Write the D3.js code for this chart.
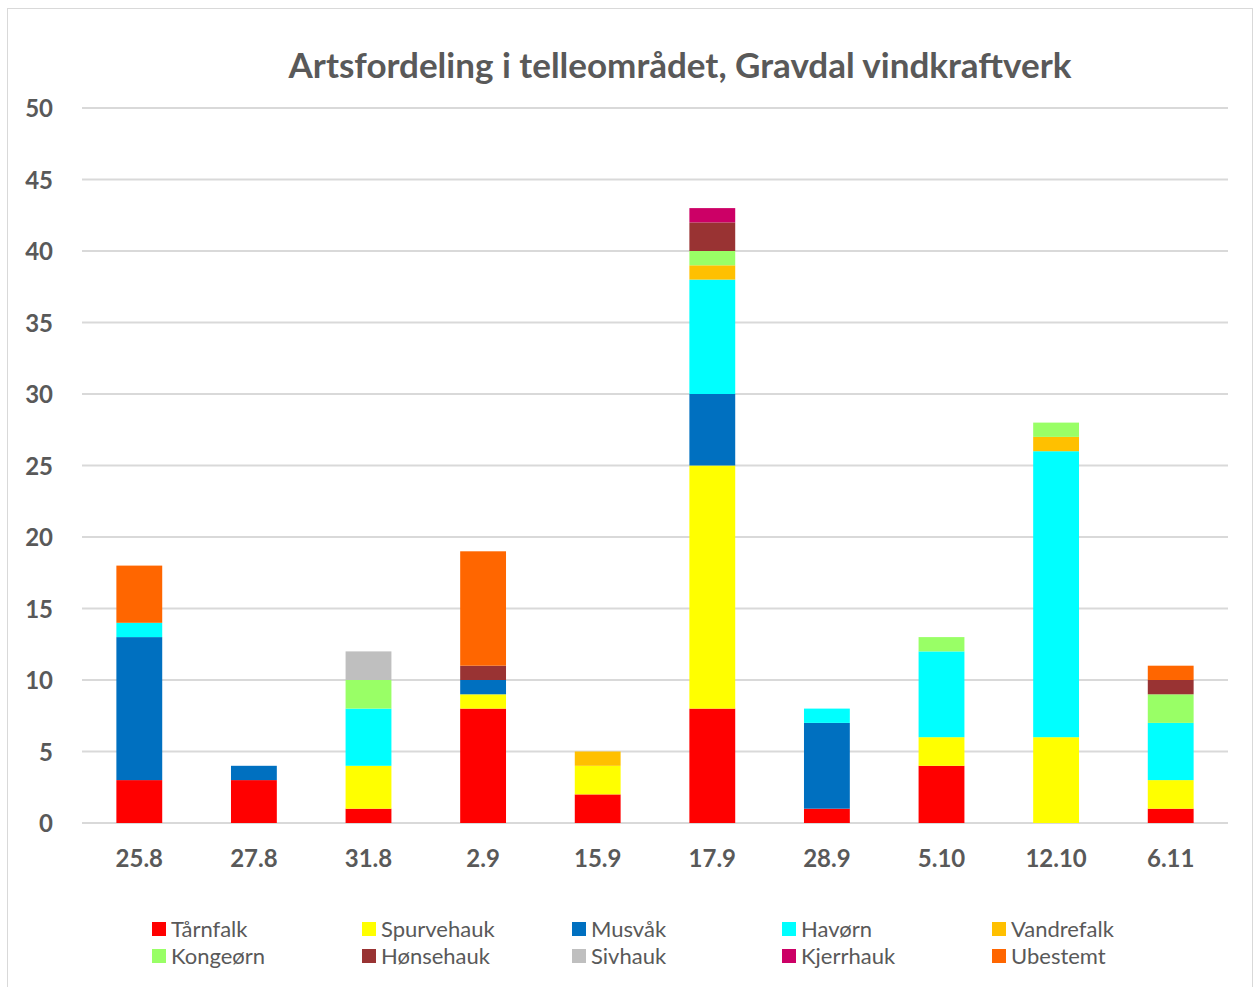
<!DOCTYPE html>
<html>
<head>
<meta charset="utf-8">
<script src="https://cdn.jsdelivr.net/npm/d3@7"></script>
<style>
	body { margin: 0; background: #fff; }
	text { font-family: Lato, "Open Sans", sans-serif; fill: #595959; }
</style>
</head>
<body>
<svg id="chart" width="1255" height="987"></svg>
<script>
// dates on the x axis
var dates = ["25.8", "27.8", "31.8", "2.9", "15.9", "17.9", "28.9", "5.10", "12.10", "6.11"];

// species, in stacking order
var species = ["Tårnfalk", "Spurvehauk", "Musvåk", "Havørn", "Vandrefalk",
	"Kongeørn", "Hønsehauk", "Sivhauk", "Kjerrhauk", "Ubestemt"];
var colors = ["#ff0000", "#ffff00", "#0070c0", "#00ffff", "#ffc000",
	"#99ff66", "#993333", "#bfbfbf", "#cc0066", "#ff6600"];

// counts per species, one value per date
var tarnfalk   = [3, 3, 1, 8, 2, 8, 1, 4, 0, 1];
var spurvehauk = [0, 0, 3, 1, 2, 17, 0, 2, 6, 2];
var musvak     = [10, 1, 0, 1, 0, 5, 6, 0, 0, 0];
var havorn     = [1, 0, 4, 0, 0, 8, 1, 6, 20, 4];
var vandrefalk = [0, 0, 0, 0, 1, 1, 0, 0, 1, 0];
var kongeorn   = [0, 0, 2, 0, 0, 1, 0, 1, 1, 2];
var honsehauk  = [0, 0, 0, 1, 0, 2, 0, 0, 0, 1];
var sivhauk    = [0, 0, 2, 0, 0, 0, 0, 0, 0, 0];
var kjerrhauk  = [0, 0, 0, 0, 0, 1, 0, 0, 0, 0];
var ubestemt   = [4, 0, 0, 8, 0, 0, 0, 0, 0, 1];

var yTicks = [0, 5, 10, 15, 20, 25, 30, 35, 40, 45, 50];

var series = [tarnfalk, spurvehauk, musvak, havorn, vandrefalk,
	kongeorn, honsehauk, sivhauk, kjerrhauk, ubestemt];

// build rows for d3.stack
var rows = dates.map(function(d, i) {
	var r = {date: d};
	species.forEach(function(s, j) { r[s] = series[j][i]; });
	return r;
});

var svg = d3.select("#chart");

// outer chart border
svg.append("rect")
	.attr("x", 7.5).attr("y", 8.5)
	.attr("width", 1245).attr("height", 990)
	.attr("fill", "none")
	.attr("stroke", "#d9d9d9");

var x = d3.scaleBand()
	.domain(dates)
	.range([82, 1228])
	.paddingInner(0.6)
	.paddingOuter(0.3);

var y = d3.scaleLinear()
	.domain([0, 50])
	.range([823, 108]);

var color = d3.scaleOrdinal().domain(species).range(colors);

// gridlines
svg.append("g")
	.selectAll("line")
	.data(yTicks)
	.enter().append("line")
		.attr("x1", 82).attr("x2", 1228)
		.attr("y1", d => y(d)).attr("y2", d => y(d))
		.attr("stroke", "#d9d9d9")
		.attr("stroke-width", 2);

// y axis labels
var yAxis = d3.axisLeft(y).tickValues(yTicks).tickSize(0).tickPadding(0);
var gy = svg.append("g")
	.attr("transform", "translate(53,1)")
	.call(yAxis);
gy.select(".domain").remove();
gy.selectAll("text")
	.attr("font-size", 24)
	.attr("font-weight", "bold")
	.attr("fill", "#595959")
	.style("font-family", "Lato, 'Open Sans', sans-serif");

// stacked bars
var stack = d3.stack().keys(species);
var layers = stack(rows);

svg.append("g")
	.selectAll("g")
	.data(layers)
	.enter().append("g")
		.attr("fill", d => color(d.key))
	.selectAll("rect")
	.data(d => d)
	.enter().append("rect")
		.attr("x", d => x(d.data.date))
		.attr("width", x.bandwidth())
		.attr("y", d => y(d[1]))
		.attr("height", d => y(d[0]) - y(d[1]));

// x axis labels
var xAxis = d3.axisBottom(x).tickSize(0).tickPadding(0);
var gx = svg.append("g")
	.attr("transform", "translate(0,850)")
	.call(xAxis);
gx.select(".domain").remove();
gx.selectAll("text")
	.attr("font-size", 24)
	.attr("font-weight", "bold")
	.attr("fill", "#595959")
	.style("font-family", "Lato, 'Open Sans', sans-serif");

// title
svg.append("text")
	.attr("x", 680)
	.attr("y", 78)
	.attr("text-anchor", "middle")
	.attr("font-size", 35)
	.attr("font-weight", "bold")
	.text("Artsfordeling i telleområdet, Gravdal vindkraftverk");

// legend, 5 columns x 2 rows
var legend = svg.append("g")
	.selectAll("g")
	.data(species)
	.enter().append("g")
		.attr("transform", (d, i) => "translate(" + (152 + (i % 5) * 210) + "," + (929 + Math.floor(i / 5) * 27) + ")");

legend.append("rect")
	.attr("x", 0).attr("y", -7)
	.attr("width", 14).attr("height", 14)
	.attr("fill", d => color(d));

legend.append("text")
	.attr("x", 19)
	.attr("y", 8)
	.attr("font-size", 22)
	.text(d => d);
</script>
</body>
</html>
